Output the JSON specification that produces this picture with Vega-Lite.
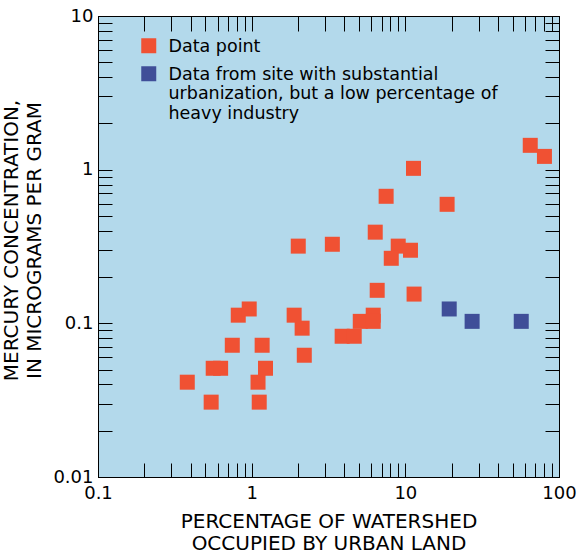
{
  "$schema": "https://vega.github.io/schema/vega-lite/v6.json",
  "width": 461,
  "height": 461,
  "autosize": {"type": "none"},
  "padding": {"left": 98, "top": 16, "right": 19, "bottom": 79},
  "background": "white",
  "config": {
    "font": "DejaVu Sans",
    "view": {"fill": "#B3D9EB", "stroke": "black", "strokeWidth": 1},
    "axis": {"grid": false, "domainColor": "black", "domainWidth": 1, "tickColor": "black", "tickWidth": 1, "labelColor": "black", "titleColor": "black", "labelFont": "DejaVu Sans", "titleFont": "DejaVu Sans", "labelFontSize": 18, "titleFontSize": 20, "titleFontWeight": "normal", "labelOverlap": false, "labelFlush": false, "ticks": true, "titleLineHeight": 23}
  },
  "data": {
    "values": [
      {"urban_pct": 65.0, "mercury": 1.44, "group": "Data point"},
      {"urban_pct": 80.4, "mercury": 1.22, "group": "Data point"},
      {"urban_pct": 11.3, "mercury": 1.02, "group": "Data point"},
      {"urban_pct": 7.5, "mercury": 0.671, "group": "Data point"},
      {"urban_pct": 18.7, "mercury": 0.595, "group": "Data point"},
      {"urban_pct": 6.37, "mercury": 0.392, "group": "Data point"},
      {"urban_pct": 2.01, "mercury": 0.318, "group": "Data point"},
      {"urban_pct": 3.35, "mercury": 0.327, "group": "Data point"},
      {"urban_pct": 8.99, "mercury": 0.318, "group": "Data point"},
      {"urban_pct": 10.8, "mercury": 0.299, "group": "Data point"},
      {"urban_pct": 8.1, "mercury": 0.265, "group": "Data point"},
      {"urban_pct": 6.56, "mercury": 0.164, "group": "Data point"},
      {"urban_pct": 11.4, "mercury": 0.155, "group": "Data point"},
      {"urban_pct": 0.818, "mercury": 0.113, "group": "Data point"},
      {"urban_pct": 0.964, "mercury": 0.124, "group": "Data point"},
      {"urban_pct": 1.89, "mercury": 0.113, "group": "Data point"},
      {"urban_pct": 2.13, "mercury": 0.093, "group": "Data point"},
      {"urban_pct": 2.2, "mercury": 0.062, "group": "Data point"},
      {"urban_pct": 3.88, "mercury": 0.0824, "group": "Data point"},
      {"urban_pct": 4.65, "mercury": 0.0824, "group": "Data point"},
      {"urban_pct": 5.09, "mercury": 0.103, "group": "Data point"},
      {"urban_pct": 6.18, "mercury": 0.113, "group": "Data point"},
      {"urban_pct": 6.18, "mercury": 0.103, "group": "Data point"},
      {"urban_pct": 0.748, "mercury": 0.072, "group": "Data point"},
      {"urban_pct": 1.17, "mercury": 0.072, "group": "Data point"},
      {"urban_pct": 0.562, "mercury": 0.051, "group": "Data point"},
      {"urban_pct": 0.628, "mercury": 0.051, "group": "Data point"},
      {"urban_pct": 1.23, "mercury": 0.051, "group": "Data point"},
      {"urban_pct": 0.381, "mercury": 0.0414, "group": "Data point"},
      {"urban_pct": 1.10, "mercury": 0.0414, "group": "Data point"},
      {"urban_pct": 0.545, "mercury": 0.0307, "group": "Data point"},
      {"urban_pct": 1.12, "mercury": 0.0307, "group": "Data point"},
      {"urban_pct": 19.3, "mercury": 0.124, "group": "Urbanized site, low heavy industry"},
      {"urban_pct": 27.2, "mercury": 0.103, "group": "Urbanized site, low heavy industry"},
      {"urban_pct": 56.8, "mercury": 0.103, "group": "Urbanized site, low heavy industry"}
    ]
  },
  "layer": [
    {
      "mark": {"type": "point", "shape": "square", "filled": true, "size": 225, "opacity": 1, "strokeWidth": 0},
      "encoding": {
        "x": {
          "field": "urban_pct", "type": "quantitative",
          "scale": {"type": "log", "domain": [0.1, 100], "nice": false},
          "axis": {
            "orient": "bottom",
            "values": [0.1,0.2,0.3,0.4,0.5,0.6,0.7,0.8,0.9,1,2,3,4,5,6,7,8,9,10,20,30,40,50,60,70,80,90,100],
            "labelExpr": "abs(log(datum.value)/LN10 - round(log(datum.value)/LN10)) < 0.01 ? format(datum.value, '~g') : ''",
            "tickSize": -14,
            "labelPadding": 21,
            "title": ["PERCENTAGE OF WATERSHED", "OCCUPIED BY URBAN LAND"],
            "titleBaseline": "top",
            "titleY": 34,
            "titleLineHeight": 22,
            "encode": {"ticks": {"update": {"y2": {"signal": "abs(log(datum.value)/LN10 - round(log(datum.value)/LN10)) < 0.01 ? -14 : -7"}}}}
          }
        },
        "y": {
          "field": "mercury", "type": "quantitative",
          "scale": {"type": "log", "domain": [0.01, 10], "nice": false},
          "axis": {
            "orient": "left",
            "values": [0.01,0.02,0.03,0.04,0.05,0.06,0.07,0.08,0.09,0.1,0.2,0.3,0.4,0.5,0.6,0.7,0.8,0.9,1,2,3,4,5,6,7,8,9,10],
            "labelExpr": "abs(log(datum.value)/LN10 - round(log(datum.value)/LN10)) < 0.01 ? format(datum.value, '~g') : ''",
            "tickSize": -14,
            "labelPadding": 19,
            "title": ["MERCURY CONCENTRATION,", "IN MICROGRAMS PER GRAM"],
            "titleAngle": -90,
            "titleBaseline": "top",
            "titleAlign": "center",
            "titleX": -97,
            "titleY": 224,
            "encode": {"ticks": {"update": {"x2": {"signal": "abs(log(datum.value)/LN10 - round(log(datum.value)/LN10)) < 0.01 ? 14 : 7"}}}}
          }
        },
        "color": {
          "field": "group", "type": "nominal",
          "scale": {"domain": ["Data point", "Urbanized site, low heavy industry"], "range": ["#F05133", "#3F4E98"]},
          "legend": {
            "title": null,
            "orient": "none",
            "legendX": 42,
            "legendY": 21,
            "padding": 0,
            "symbolType": "square",
            "symbolSize": 225,
            "symbolStrokeWidth": 0,
            "symbolOpacity": 1,
            "labelFont": "DejaVu Sans",
            "labelFontSize": 17.5,
            "labelColor": "black",
            "labelLimit": 600,
            "labelOffset": 11,
            "labelBaseline": "alphabetic",
            "rowPadding": 9,
            "labelExpr": "datum.label == 'Data point' ? 'Data point' : ['Data from site with substantial', 'urbanization, but a low percentage of', 'heavy industry']",
            "encode": {"labels": {"update": {"dy": {"value": 6}, "lineHeight": {"value": 19.5}}}}
          }
        }
      }
    },
    {
      "mark": {"type": "point", "shape": "square", "filled": true, "size": 225, "opacity": 0},
      "encoding": {
        "x": {
          "field": "urban_pct", "type": "quantitative",
          "scale": {"type": "log", "domain": [0.1, 100], "nice": false},
          "axis": {
            "orient": "top",
            "values": [0.1,0.2,0.3,0.4,0.5,0.6,0.7,0.8,0.9,1,2,3,4,5,6,7,8,9,10,20,30,40,50,60,70,80,90,100],
            "labels": false,
            "tickSize": -15,
            "title": null,
            "encode": {"ticks": {"update": {"y2": {"signal": "abs(log(datum.value)/LN10 - round(log(datum.value)/LN10)) < 0.01 ? 15 : 8"}}}}
          }
        },
        "y": {
          "field": "mercury", "type": "quantitative",
          "scale": {"type": "log", "domain": [0.01, 10], "nice": false},
          "axis": {
            "orient": "right",
            "values": [0.01,0.02,0.03,0.04,0.05,0.06,0.07,0.08,0.09,0.1,0.2,0.3,0.4,0.5,0.6,0.7,0.8,0.9,1,2,3,4,5,6,7,8,9,10],
            "labels": false,
            "tickSize": -14,
            "title": null,
            "encode": {"ticks": {"update": {"x2": {"signal": "abs(log(datum.value)/LN10 - round(log(datum.value)/LN10)) < 0.01 ? -14 : -7"}}}}
          }
        }
      }
    }
  ],
  "resolve": {"axis": {"x": "independent", "y": "independent"}}
}
